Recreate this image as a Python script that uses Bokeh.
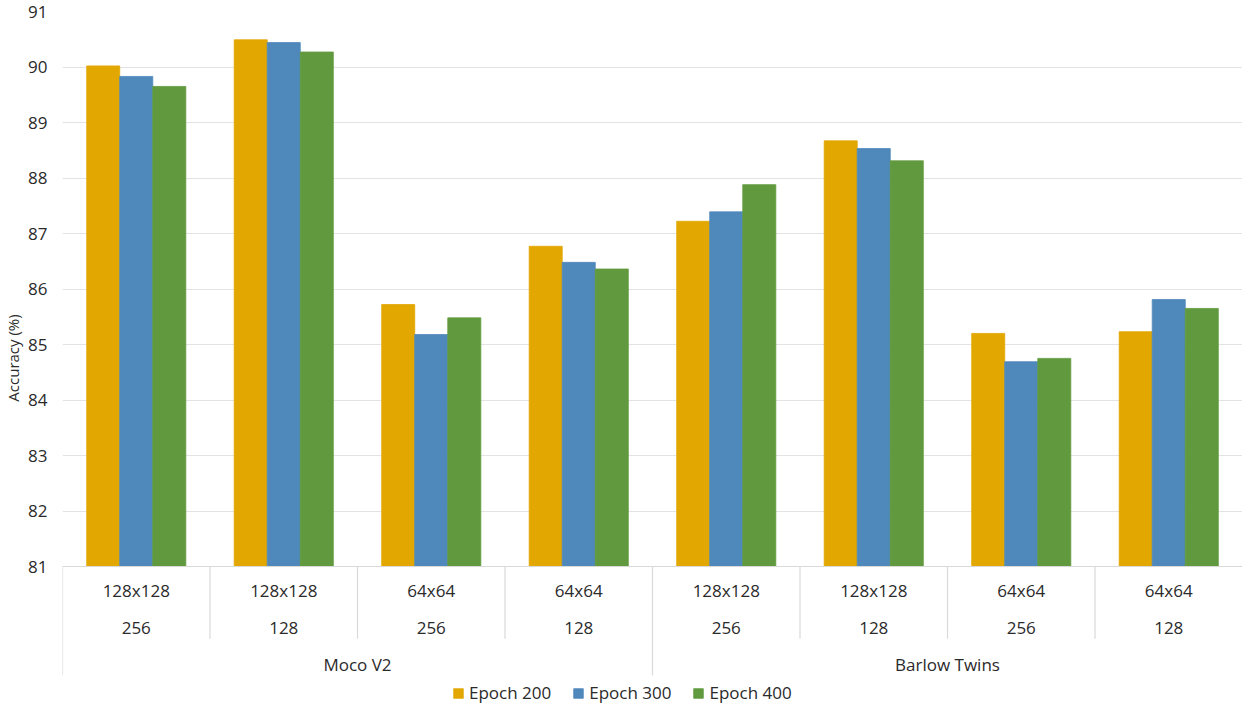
from bokeh.plotting import figure
from bokeh.models import FactorRange, Range1d, ColumnDataSource, FixedTicker, Legend, LegendItem
from bokeh.transform import dodge
from bokeh.core.properties import value
from bokeh.embed import file_html
from bokeh.resources import INLINE

methods = ["Moco V2"] * 4 + ["Barlow Twins"] * 4
resolutions = ["128x128", "128x128", "64x64", "64x64", "128x128", "128x128", "64x64", "64x64"]
batches = ["256", "128", "256", "128", "256", "128", "256", "128"]
epoch200 = [90.02, 90.49, 85.72, 86.77, 87.22, 88.67, 85.20, 85.23]
epoch300 = [89.83, 90.44, 85.18, 86.48, 87.39, 88.53, 84.69, 85.81]
epoch400 = [89.65, 90.27, 85.48, 86.36, 87.88, 88.31, 84.75, 85.65]
series_names = ["Epoch 200", "Epoch 300", "Epoch 400"]
colors = ["#E2A700", "#4F88BB", "#619A3E"]
y_ticks = list(range(81, 92))

FONT = "Open Sans"
TXT = "#2a2a2a"

factors = list(zip(methods, resolutions, batches))
src = ColumnDataSource(dict(x=factors, e200=epoch200, e300=epoch300, e400=epoch400,
                            res=resolutions, bat=batches))

x_range = FactorRange(*factors, factor_padding=0, subgroup_padding=0, group_padding=0, range_padding=0)
y_bottom = 78.514
p = figure(width=1242, height=704, x_range=x_range, y_range=Range1d(y_bottom, 91),
           output_backend="svg", toolbar_location=None,
           min_border_left=55, min_border_right=0, min_border_top=11, min_border_bottom=0)
p.outline_line_color = None
p.xaxis.visible = False
p.xgrid.visible = False

ax = p.yaxis[0]
ax.ticker = FixedTicker(ticks=y_ticks)
ax.bounds = (81, 91)
ax.axis_line_color = None
ax.major_tick_line_color = None
ax.minor_tick_line_color = None
ax.major_tick_out = 0
ax.major_tick_in = 0
ax.minor_tick_out = 0
ax.major_label_standoff = 15
ax.major_label_text_font = FONT
ax.major_label_text_font_size = "17px"
ax.major_label_text_color = TXT
ax.axis_label = "Accuracy (%)"
ax.axis_label_text_font = FONT
ax.axis_label_text_font_size = "15px"
ax.axis_label_text_font_style = "normal"
ax.axis_label_text_color = TXT
ax.axis_label_standoff = 2

p.ygrid.ticker = FixedTicker(ticks=y_ticks)
p.ygrid.bounds = (81, 90)
p.ygrid.grid_line_color = "#e3e3e3"
p.ygrid.grid_line_width = 1.2

w = 0.224
renderers = []
for key, off, col in zip(["e200", "e300", "e400"], [-w, 0, w], colors):
    r = p.vbar(x=dodge("x", off, range=x_range), top=key, bottom=81, width=w, source=src,
               fill_color=col, line_color=col, line_width=0.8)
    renderers.append(r)

# category separators below the axis
n = len(factors)
inner = [i for i in range(1, n) if methods[i] == methods[i - 1]]
outer = [0] + [i for i in range(1, n) if methods[i] != methods[i - 1]]
p.segment(x0=inner, x1=inner, y0=[81] * len(inner), y1=[79.70] * len(inner),
          line_color="#d9d9d9", line_width=1.2)
p.segment(x0=outer, x1=outer, y0=[81] * len(outer), y1=[79.04] * len(outer),
          line_color="#d9d9d9", line_width=1.2)
p.segment(x0=[0], x1=[n], y0=[81], y1=[81], line_color="#d9d9d9", line_width=1.2)

p.text(x="x", y=80.56, text="res", source=src, text_align="center", text_baseline="middle",
       text_font=value(FONT), text_font_size="17px", text_color=TXT)
p.text(x="x", y=79.89, text="bat", source=src, text_align="center", text_baseline="middle",
       text_font=value(FONT), text_font_size="17px", text_color=TXT)
uniq_methods = list(dict.fromkeys(methods))
p.text(x=uniq_methods, y=[79.23] * len(uniq_methods), text=uniq_methods, text_align="center",
       text_baseline="middle", text_font=value(FONT), text_font_size="17px", text_color=TXT)

legend = Legend(items=[LegendItem(label=s, renderers=[r]) for s, r in zip(series_names, renderers)],
                orientation="horizontal", location=(390, 0),
                border_line_color=None, background_fill_alpha=0,
                label_text_font=FONT, label_text_font_size="17px", label_text_color=TXT,
                glyph_width=12, glyph_height=12, spacing=21, padding=1, margin=0,
                label_standoff=5)
p.add_layout(legend)

open("out.html", "w").write(file_html(p, INLINE))
